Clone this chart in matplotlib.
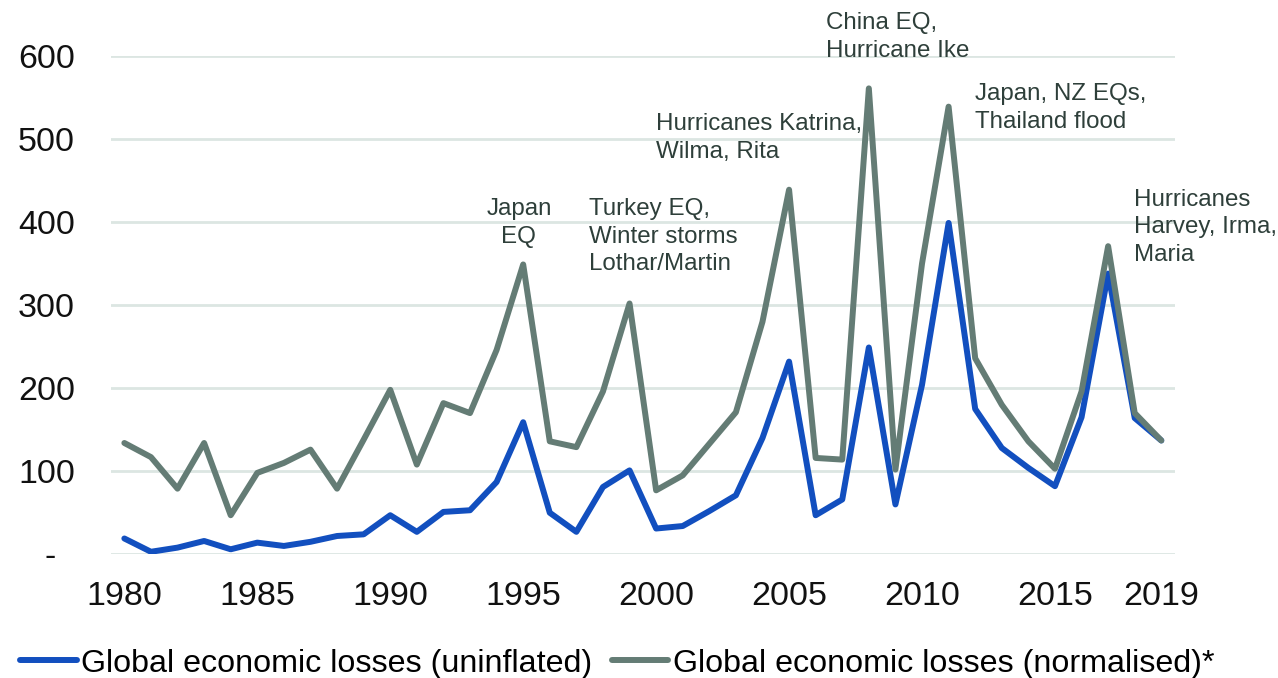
import matplotlib
matplotlib.use("Agg")
import matplotlib.pyplot as plt
from matplotlib import font_manager

# Annual global economic losses from natural catastrophes (USD bn)
years = list(range(1980, 2020))
uninflated = [19, 3, 8, 16, 6, 14, 10, 15, 22, 24,
              47, 27, 51, 53, 87, 159, 50, 27, 81, 101,
              31, 34, 52, 71, 140, 232, 47, 66, 249, 60,
              204, 399, 175, 128, 104, 82, 165, 338, 164, 137]
normalised = [134, 117, 79, 134, 47, 98, 110, 126, 79, 138,
              198, 108, 182, 170, 246, 349, 136, 129, 196, 302,
              77, 95, 133, 171, 280, 439, 116, 114, 561, 102,
              350, 539, 236, 180, 136, 103, 196, 371, 170, 137]

x_ticks = [1980, 1985, 1990, 1995, 2000, 2005, 2010, 2015, 2019]
y_ticks = [0, 100, 200, 300, 400, 500, 600]
y_tick_labels = ["-  ", "100", "200", "300", "400", "500", "600"]

series_labels = ["Global economic losses (uninflated)",
                 "Global economic losses (normalised)*"]

# Event callouts: text, anchor year, anchor value, horizontal alignment
events = [
    ("Japan\nEQ", 1994.84, 429, "center"),
    ("Turkey EQ,\nWinter storms\nLothar/Martin", 1997.47, 429, "left"),
    ("Hurricanes Katrina,\nWilma, Rita", 2000.0, 531, "left"),
    ("China EQ,\nHurricane Ike", 2006.38, 653, "left"),
    ("Japan, NZ EQs,\nThailand flood", 2011.98, 567, "left"),
    ("Hurricanes\nHarvey, Irma,\nMaria", 2017.96, 440, "left"),
]

BLUE = "#124FBF"
GREY = "#647C75"
NOTE = "#2E3F3A"
GRID = "#DCE6E2"

installed = {f.name for f in font_manager.fontManager.ttflist}
base_font = "Liberation Sans" if "Liberation Sans" in installed else "DejaVu Sans"
plt.rcParams["font.family"] = [base_font, "DejaVu Sans"]

fig = plt.figure(figsize=(12.78, 6.78), dpi=100)
ax = fig.add_axes([0.0869, 0.1825, 0.8322, 0.7349])

ax.plot(years, uninflated, color=BLUE, lw=4.3,
        solid_joinstyle="round", solid_capstyle="round",
        label=series_labels[0], zorder=3)
ax.plot(years, normalised, color=GREY, lw=4.3,
        solid_joinstyle="round", solid_capstyle="round",
        label=series_labels[1], zorder=4)

ax.set_xlim(1979.5, 2019.5)
ax.set_ylim(0, 600)
ax.set_xticks(x_ticks)
ax.set_xticklabels([str(y) for y in x_ticks])
ax.set_yticks(y_ticks)
ax.set_yticklabels(y_tick_labels)

ax.tick_params(axis="both", length=0, labelsize=24.5, colors="#111111")
ax.tick_params(axis="y", pad=26)
ax.tick_params(axis="x", pad=19)

for s in ax.spines.values():
    s.set_visible(False)
ax.grid(axis="y", color=GRID, lw=2, zorder=0)
ax.set_axisbelow(True)

for text, xv, yv, ha in events:
    ax.text(xv, yv, text, ha=ha, va="top", multialignment=ha,
            fontsize=17.4, color=NOTE, linespacing=1.33, clip_on=False)

leg = fig.legend(loc="center left", bbox_to_anchor=(0.016, 0.021),
                 ncol=2, frameon=False, handlelength=1.75,
                 handletextpad=0.14, columnspacing=0.6, borderpad=0,
                 borderaxespad=0,
                 prop={"size": 23.2})
for line in leg.get_lines():
    line.set_linewidth(4.3)
    line.set_solid_capstyle("round")

fig.savefig("out.png", dpi=100)
